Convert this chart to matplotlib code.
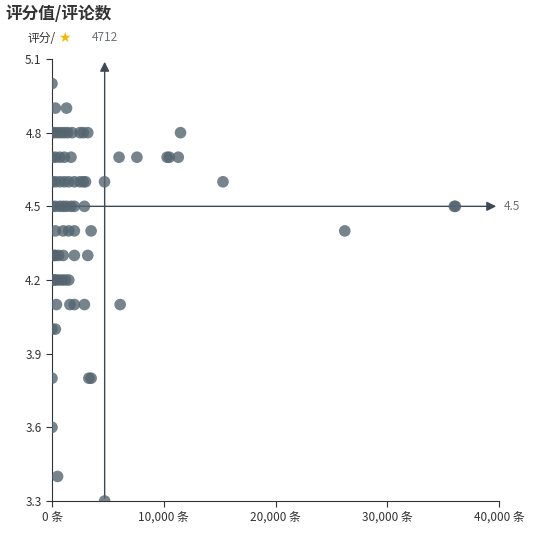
import matplotlib.pyplot as plt
from matplotlib.ticker import FuncFormatter

plt.rcParams['font.family'] = ['Noto Sans CJK SC', 'DejaVu Sans']

# (rating, comment count)
ratings = [5.0, 4.9, 4.9,
           4.8, 4.8, 4.8, 4.8, 4.8, 4.8, 4.8, 4.8, 4.8, 4.8, 4.8,
           4.7, 4.7, 4.7, 4.7, 4.7, 4.7, 4.7, 4.7, 4.7, 4.7,
           4.6, 4.6, 4.6, 4.6, 4.6, 4.6, 4.6, 4.6, 4.6, 4.6, 4.6,
           4.5, 4.5, 4.5, 4.5, 4.5, 4.5, 4.5, 4.5, 4.5, 4.5,
           4.4, 4.4, 4.4, 4.4, 4.4, 4.4,
           4.3, 4.3, 4.3, 4.3, 4.3, 4.3, 4.3,
           4.2, 4.2, 4.2, 4.2, 4.2, 4.2, 4.2,
           4.1, 4.1, 4.1, 4.1, 4.1,
           4.0, 4.0, 3.8, 3.8, 3.8, 3.6, 3.4, 3.3]
comments = [0, 300, 1300,
            0, 200, 500, 800, 1100, 1400, 1800, 2500, 2800, 3200, 11500,
            0, 300, 700, 1100, 1700, 6000, 7600, 10300, 10500, 11300,
            0, 300, 700, 1100, 1500, 2000, 2500, 2800, 3000, 4700, 15300,
            0, 300, 700, 1000, 1300, 1700, 2000, 2900, 36100, 36000,
            300, 1000, 1500, 2000, 3500, 26200,
            0, 300, 600, 1000, 2000, 3200, 200,
            0, 300, 600, 900, 1200, 1500, 200,
            400, 1600, 2000, 2900, 6100,
            0, 300, 0, 3300, 3500, 0, 500, 4712]

avg_comments = 4712
avg_rating = 4.5

fig = plt.figure(figsize=(5.38, 5.38), dpi=100)
ax = fig.add_axes([52/538, 37/538, 447/538, 442/538])
ax.scatter(comments, ratings, s=70, color='#546570', alpha=0.8, edgecolors='none', zorder=3)

ax.set_xlim(0, 40000)
ax.set_ylim(3.3, 5.1)
ax.set_xticks([0, 10000, 20000, 30000, 40000])
ax.set_yticks([3.3, 3.6, 3.9, 4.2, 4.5, 4.8, 5.1])
ax.xaxis.set_major_formatter(FuncFormatter(lambda v, p: f'{int(v):,} 条'))
ax.yaxis.set_major_formatter(FuncFormatter(lambda v, p: f'{v:.1f}'))
for s in ['top', 'right']:
    ax.spines[s].set_visible(False)
for s in ['left', 'bottom']:
    ax.spines[s].set_color('#333333')
ax.tick_params(colors='#333333', labelsize=8.5, length=4, color='#333333')

# mark lines
ax.annotate('', xy=(avg_comments, 5.1), xytext=(avg_comments, 3.3),
            arrowprops=dict(arrowstyle='-|>', color='#3d4a55', lw=1, mutation_scale=14), zorder=2)
ax.text(avg_comments, 5.16, str(avg_comments), ha='center', va='bottom', fontsize=8.5, color='#6e7079')
ax.annotate('', xy=(40000, avg_rating), xytext=(0, avg_rating),
            arrowprops=dict(arrowstyle='-|>', color='#3d4a55', lw=1, mutation_scale=14), zorder=2)
ax.text(40400, avg_rating, str(avg_rating), ha='left', va='center', fontsize=8.5, color='#6e7079')

fig.text(5/538, 1 - 14/538, '评分值/评论数', fontsize=12, fontweight='bold', color='#333333', va='center')
fig.text(28/538, 1 - 38/538, '评分/', fontsize=8.5, color='#333333', va='center')
fig.text(58/538, 1 - 38/538, '★', fontsize=10, color='#f5b800', va='center', family='DejaVu Sans')

fig.savefig('out.png', dpi=100)
